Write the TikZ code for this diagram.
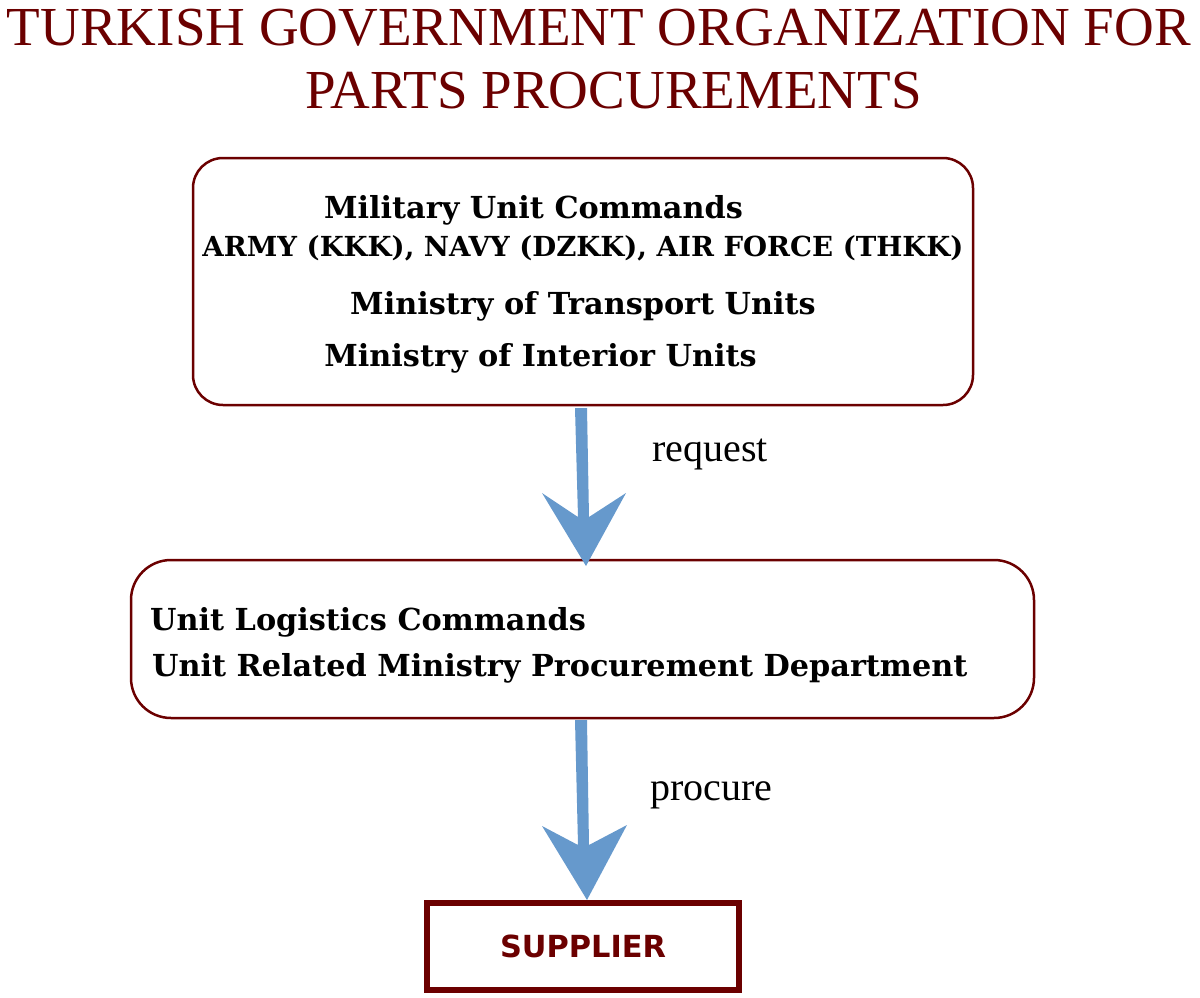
\documentclass[tikz,border=0pt]{standalone}
\usepackage{fontspec}
\setmainfont{Liberation Serif}
\newfontfamily\boldserif{DejaVu Serif}
\newfontfamily\supfont{DejaVu Sans}
\definecolor{darkred}{HTML}{6B0000}
\definecolor{arrowblue}{HTML}{6699CC}
\begin{document}
\begin{tikzpicture}[x=1pt,y=-1pt,
  rbox/.style={draw=darkred,line width=2.5pt},
  btxt/.style={font=\boldserif\bfseries\fontsize{30.3}{34}\selectfont,text=black,inner sep=0pt,anchor=base},
  ttl/.style={text=darkred,font=\fontsize{55}{60}\selectfont,inner sep=0pt,anchor=base},
  lbl/.style={font=\fontsize{40}{44}\selectfont,inner sep=0pt,anchor=base west},
  fatarrow/.style={fill=arrowblue,draw=none}]
\useasboundingbox (0,0) rectangle (1200,998);
\node[ttl] (title1) at (599,46) {TURKISH GOVERNMENT ORGANIZATION FOR};
\node[ttl] (title2) at (613.5,108) {PARTS PROCUREMENTS};
\draw[rbox,rounded corners=30pt] (193,158) rectangle (973,405);
\node[btxt] (t1) at (533.5,218) {Military Unit Commands};
\node[btxt,font=\boldserif\bfseries\fontsize{27.6}{32}\selectfont] (t2) at (583,256) {ARMY (KKK), NAVY (DZKK), AIR FORCE (THKK)};
\node[btxt] (t3) at (583,314) {Ministry of Transport Units};
\node[btxt] (t4) at (540.5,366) {Ministry of Interior Units};
\draw[rbox,rounded corners=40pt] (131,560) rectangle (1034,718);
\node[btxt,anchor=base west] (t5) at (150,630) {Unit Logistics Commands};
\node[btxt,anchor=base west] (t6) at (152,676) {Unit Related Ministry Procurement Department};
\draw[draw=darkred,line width=6pt] (427,903) rectangle (739,990);
\node[text=darkred,font=\supfont\bfseries\fontsize{30.4}{34}\selectfont,inner sep=0pt] (sup) at (583,946) {SUPPLIER};
% arrows
\fill[fatarrow] (575,408) -- (587,408) -- (589,517) -- (626,493) -- (586,566) -- (542,493) -- (578,517) -- cycle;
\fill[fatarrow] (575,720) -- (587,720) -- (589,845) -- (627,825) -- (587,900) -- (542,826) -- (578,845) -- cycle;
\node[lbl] (req) at (652,461) {request};
\node[lbl] (proc) at (650,800) {procure};
\end{tikzpicture}
\end{document}
